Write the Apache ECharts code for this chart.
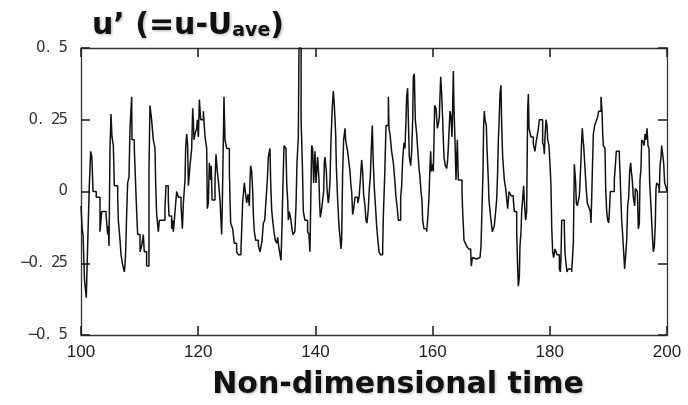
<!DOCTYPE html>
<html>
<head>
<meta charset="utf-8">
<script src="https://cdn.jsdelivr.net/npm/echarts@6/dist/echarts.min.js"></script>
<style>html,body{margin:0;padding:0;background:#fff;}#c{width:688px;height:405px;}</style>
</head>
<body>
<div id="c"></div>
<script>
const xTicks = [100, 120, 140, 160, 180, 200];
const yTickLabels = ['−0. 5', '−0. 25', '0', '0. 25', '0. 5'];
const times = [
100.0,100.2,100.35,100.6,100.9,101.2,101.4,101.65,101.85,102.05,102.6,103.24,103.53,104.27,104.55,104.66,104.78,104.95,105.12,105.29,105.52,105.69,106.26,106.37,106.66,106.83,107.05,107.39,107.5,107.62,107.79,107.96,108.19,108.36,108.65,108.7,109.1,109.33,109.5,109.67,110.07,110.35,110.63,110.8,111.2,111.6,111.77,112.05,112.34,112.63,112.74,112.91,113.2,113.37,114.33,114.5,114.9,115.02,115.47,115.64,115.76,115.93,116.16,116.33,116.61,117.07,117.3,117.47,117.75,117.86,118.03,118.2,118.32,118.6,118.89,119.06,
119.17,119.28,119.45,119.74,119.86,120.03,120.2,120.42,120.88,121.0,121.17,121.45,121.56,121.73,121.9,122.13,122.24,122.36,122.87,123.04,123.26,123.43,123.72,124.0,124.12,124.29,124.4,124.57,124.86,125.32,125.43,125.54,125.88,126.16,126.56,126.85,127.3,127.41,127.58,127.87,128.04,128.27,128.5,128.73,128.84,128.95,129.13,129.3,129.41,129.58,129.81,130.27,130.55,130.72,130.9,131.12,131.35,131.57,131.8,131.97,132.14,132.25,132.36,132.53,132.7,132.93,133.16,133.39,133.56,133.73,133.96,134.13,134.3,134.47,134.64,134.98,135.1,135.27,
135.38,135.55,135.83,136.0,136.17,136.5,136.69,136.86,137.09,137.2,137.56,137.77,137.94,138.21,138.67,138.9,139.07,139.36,139.53,139.7,139.93,140.1,140.38,140.61,140.72,140.84,141.07,141.41,141.52,141.64,141.87,141.98,142.2,142.32,142.5,142.66,142.9,143.06,143.23,143.46,143.57,143.8,144.02,144.2,144.37,144.48,144.65,144.82,145.05,145.16,145.5,145.73,145.9,146.07,146.19,146.36,146.53,146.76,147.21,147.45,147.67,147.89,148.06,148.23,148.46,148.63,148.8,149.03,149.2,149.37,149.6,149.71,149.88,150.06,150.28,150.45,150.62,150.85,151.08,151.48,
151.59,151.82,152.05,152.45,152.56,152.73,153.01,153.3,153.58,153.75,153.98,154.15,154.55,154.72,154.89,155.12,155.29,155.46,155.57,155.74,155.86,156.03,156.26,156.43,156.6,156.71,156.88,157.05,157.28,157.45,157.68,157.85,158.02,158.19,158.3,158.53,158.99,159.22,159.39,159.56,159.67,159.78,159.95,160.12,160.24,160.35,160.58,160.81,160.98,161.15,161.26,161.38,161.55,161.72,161.83,161.95,162.17,162.4,162.57,162.74,162.97,163.14,163.31,163.42,163.54,163.65,163.82,163.99,164.22,164.39,165.02,165.13,165.36,165.59,165.81,166.15,166.5,166.61,166.78,167.12,167.52,
168.09,168.26,168.6,168.71,168.83,168.94,169.17,169.28,169.51,169.62,169.96,170.19,170.36,170.53,170.76,170.93,171.1,171.22,171.33,171.5,171.67,171.79,171.96,172.24,172.47,172.81,173.04,173.38,173.78,173.95,174.35,174.52,174.63,174.8,174.91,175.09,175.2,175.54,175.65,175.77,175.88,176.05,176.22,176.34,176.45,176.79,177.19,177.36,177.47,177.65,177.82,178.05,178.22,178.78,178.95,179.07,179.18,179.35,179.52,179.64,179.86,180.09,180.2,180.32,180.49,180.66,180.89,181.23,181.46,181.63,181.8,181.91,182.03,182.31,182.48,182.59,182.76,182.94,183.16,183.73,
184.02,184.19,184.3,184.41,184.53,184.7,185.04,185.15,185.32,185.44,185.55,185.67,185.78,185.89,186.01,186.18,186.4,186.58,186.92,187.03,187.14,187.26,187.43,187.66,187.83,188.0,188.17,188.34,188.74,188.91,189.03,189.14,189.42,189.54,189.71,189.88,190.05,190.22,190.33,191.01,191.18,191.35,191.87,191.98,192.09,192.27,192.43,192.6,192.77,192.95,193.12,193.29,193.46,193.63,193.8,193.91,194.03,194.14,194.25,194.48,194.6,194.94,195.11,195.28,195.39,195.56,195.68,195.96,196.08,196.25,196.42,196.59,196.76,196.93,197.04,197.21,197.38,197.55,197.67,197.84,198.01,198.12,198.24,198.58,198.69,198.81,198.98,199.09,199.26,199.43,199.6,199.77,200.0
];
const uPrime = [
-0.05,-0.13,-0.15,-0.31,-0.37,-0.14,0.01,0.14,0.12,0.0,-0.02,-0.14,-0.07,-0.08,-0.15,-0.12,-0.19,0.15,0.27,0.19,0.16,0.02,-0.02,-0.10,-0.17,-0.22,-0.25,-0.28,-0.26,-0.21,-0.08,0.03,0.05,0.22,0.33,0.18,0.15,0.02,-0.07,-0.15,-0.21,-0.19,-0.15,-0.21,-0.26,0.07,0.30,0.25,0.18,0.15,0.03,-0.08,-0.14,-0.10,-0.06,0.02,-0.03,-0.085,-0.13,-0.10,-0.14,-0.10,-0.04,0.0,-0.02,-0.05,-0.13,-0.04,0.04,0.15,0.20,0.16,0.02,0.09,0.15,0.29,
0.25,0.18,0.20,0.22,0.25,0.19,0.32,0.25,0.28,0.24,0.19,0.15,-0.06,-0.04,0.10,0.04,0.09,-0.03,0.04,0.13,0.07,0.04,-0.03,-0.15,-0.04,0.18,0.33,0.18,0.15,0.07,-0.03,-0.11,-0.13,-0.18,-0.21,-0.22,-0.20,-0.14,-0.04,0.03,0.0,-0.04,-0.01,-0.05,0.04,0.09,0.07,0.0,-0.08,-0.14,-0.17,-0.19,-0.21,-0.19,-0.17,-0.11,-0.10,-0.03,0.04,0.12,0.14,0.15,0.04,-0.06,-0.10,-0.14,-0.17,-0.18,-0.16,-0.19,-0.22,-0.24,-0.12,0.03,0.16,0.15,0.03,-0.03,
-0.10,-0.07,-0.10,-0.13,-0.15,-0.14,-0.05,0.10,0.19,0.5,0.25,0.10,-0.07,-0.10,-0.14,-0.15,-0.21,0.16,0.15,0.03,0.14,0.03,0.12,0.04,-0.04,-0.09,-0.06,0.0,0.10,0.12,0.07,0.01,-0.04,-0.02,0.04,0.18,0.30,0.35,0.30,0.20,0.09,-0.03,-0.12,-0.16,-0.20,-0.17,0.07,0.18,0.22,0.18,0.14,0.10,0.07,0.02,0.0,-0.08,-0.06,-0.02,-0.04,-0.02,0.04,0.11,0.07,-0.01,-0.05,-0.10,-0.11,-0.06,0.01,0.05,0.18,0.23,0.10,0.01,-0.06,-0.12,-0.16,-0.21,-0.22,-0.19,
-0.09,0.05,0.23,0.33,0.22,0.20,0.14,0.10,0.03,-0.02,-0.06,-0.10,-0.02,0.02,0.11,0.17,0.15,0.25,0.33,0.36,0.25,0.12,0.09,0.14,0.25,0.40,0.41,0.25,0.20,0.15,0.08,0.05,0.0,-0.03,-0.10,-0.13,-0.14,-0.08,-0.015,0.09,0.14,0.07,0.095,0.07,0.18,0.30,0.29,0.22,0.235,0.26,0.33,0.40,0.34,0.25,0.18,0.12,0.09,0.08,0.11,0.18,0.28,0.26,0.19,0.29,0.42,0.29,0.18,0.04,0.18,0.04,0.0,-0.07,-0.17,-0.18,-0.19,-0.20,-0.21,-0.26,-0.23,-0.235,-0.23,
-0.23,-0.19,0.07,0.23,0.28,0.25,0.23,0.15,0.04,-0.03,-0.10,-0.14,-0.14,-0.12,-0.07,-0.03,0.07,0.18,0.23,0.34,0.37,0.23,0.12,0.04,0.01,-0.06,0.0,-0.015,-0.03,-0.07,-0.14,-0.27,-0.33,-0.30,-0.19,-0.14,-0.07,0.02,-0.03,-0.07,-0.10,-0.07,0.28,0.34,0.22,0.19,0.165,0.16,0.14,0.17,0.19,0.22,0.25,0.17,0.16,0.13,0.19,0.25,0.23,0.18,0.16,0.07,0.02,-0.12,-0.21,-0.23,-0.20,-0.22,-0.22,-0.27,-0.28,-0.23,-0.10,-0.10,-0.13,-0.21,-0.25,-0.28,-0.27,-0.28,
-0.18,0.095,0.10,0.03,-0.04,-0.05,-0.015,0.03,0.11,0.18,0.22,0.18,0.16,0.12,0.08,0.02,-0.04,-0.05,-0.07,-0.11,-0.03,0.07,0.20,0.23,0.24,0.25,0.26,0.28,0.33,0.28,0.20,0.16,0.15,0.01,-0.07,-0.10,-0.11,-0.05,0.0,0.04,0.09,0.14,0.12,0.07,0.0,-0.10,-0.15,-0.21,-0.27,-0.22,-0.17,-0.05,-0.02,0.07,0.10,0.07,0.05,0.02,-0.02,-0.05,0.01,0.0,-0.13,-0.11,0.04,0.08,0.18,0.17,0.16,0.20,0.18,0.22,0.16,0.15,0.03,-0.03,-0.10,-0.17,-0.21,-0.19,-0.11,0.01,0.03,0.02,0.0,0.09,0.12,0.16,0.13,0.10,0.03,0.02,0.0
];

const chart = echarts.init(document.getElementById('c'), null, {renderer: 'canvas'});
const seriesData = times.map((t, i) => [t, uPrime[i]]);
const yLabelMap = {'-0.5': yTickLabels[0], '-0.25': yTickLabels[1], '0': yTickLabels[2], '0.25': yTickLabels[3], '0.5': yTickLabels[4]};
function monoLabel(v) {
  const s = yLabelMap[String(v)] || String(v);
  return s.split('').map(ch => '{c|' + ch + '}').join('');
}
function frameLine() { return {show: true, onZero: false, lineStyle: {color: '#333', width: 1.3}}; }
function innerTick() { return {show: true, inside: true, length: 9, lineStyle: {color: '#222', width: 1.6}}; }
const shadow = {textShadowColor: 'rgba(0,0,0,0.3)', textShadowBlur: 3, textShadowOffsetX: 1, textShadowOffsetY: 1};
const option = {
  animation: false,
  backgroundColor: '#fff',
  title: {
    text: '{m|u’ (=u-U}{s|ave}{m|)}',
    left: 92,
    top: 7,
    padding: 0,
    textStyle: {
      rich: {
        m: Object.assign({fontFamily: 'DejaVu Sans', fontWeight: 'bold', fontSize: 30, color: '#111', lineHeight: 34, verticalAlign: 'bottom'}, shadow),
        s: Object.assign({fontFamily: 'DejaVu Sans', fontWeight: 'bold', fontSize: 19, color: '#111', lineHeight: 12, verticalAlign: 'bottom'}, shadow)
      }
    }
  },
  grid: {left: 81, right: 21, top: 48, bottom: 69},
  xAxis: [{
    type: 'value', min: xTicks[0], max: xTicks[xTicks.length - 1], interval: 20,
    position: 'bottom',
    axisLine: frameLine(), axisTick: innerTick(), splitLine: {show: false},
    axisLabel: {color: '#222', fontSize: 17, fontFamily: 'Liberation Sans', margin: 9},
    name: 'Non-dimensional time', nameLocation: 'middle', nameGap: 35,
    nameTextStyle: Object.assign({fontFamily: 'DejaVu Sans', fontWeight: 'bold', fontSize: 30, color: '#111', padding: [0, 0, 0, 48]}, shadow)
  }, {
    type: 'value', min: xTicks[0], max: xTicks[xTicks.length - 1], interval: 20,
    position: 'top',
    axisLine: frameLine(), axisTick: innerTick(), splitLine: {show: false}, axisLabel: {show: false}
  }],
  yAxis: [{
    type: 'value', min: -0.5, max: 0.5, interval: 0.25, position: 'left',
    axisLine: frameLine(), axisTick: innerTick(), splitLine: {show: false},
    axisLabel: {formatter: monoLabel, margin: 14,
      rich: {c: {width: 7.5, align: 'center', fontSize: 15, fontFamily: 'DejaVu Sans', color: '#333'}}}
  }, {
    type: 'value', min: -0.5, max: 0.5, interval: 0.25, position: 'right',
    axisLine: frameLine(), axisTick: innerTick(), splitLine: {show: false}, axisLabel: {show: false}
  }],
  series: [{
    type: 'line', step: 'end', xAxisIndex: 0, yAxisIndex: 0,
    data: seriesData, showSymbol: false, clip: true,
    lineStyle: {color: '#111', width: 1.5}
  }]
};
chart.setOption(option);
</script>
</body>
</html>
